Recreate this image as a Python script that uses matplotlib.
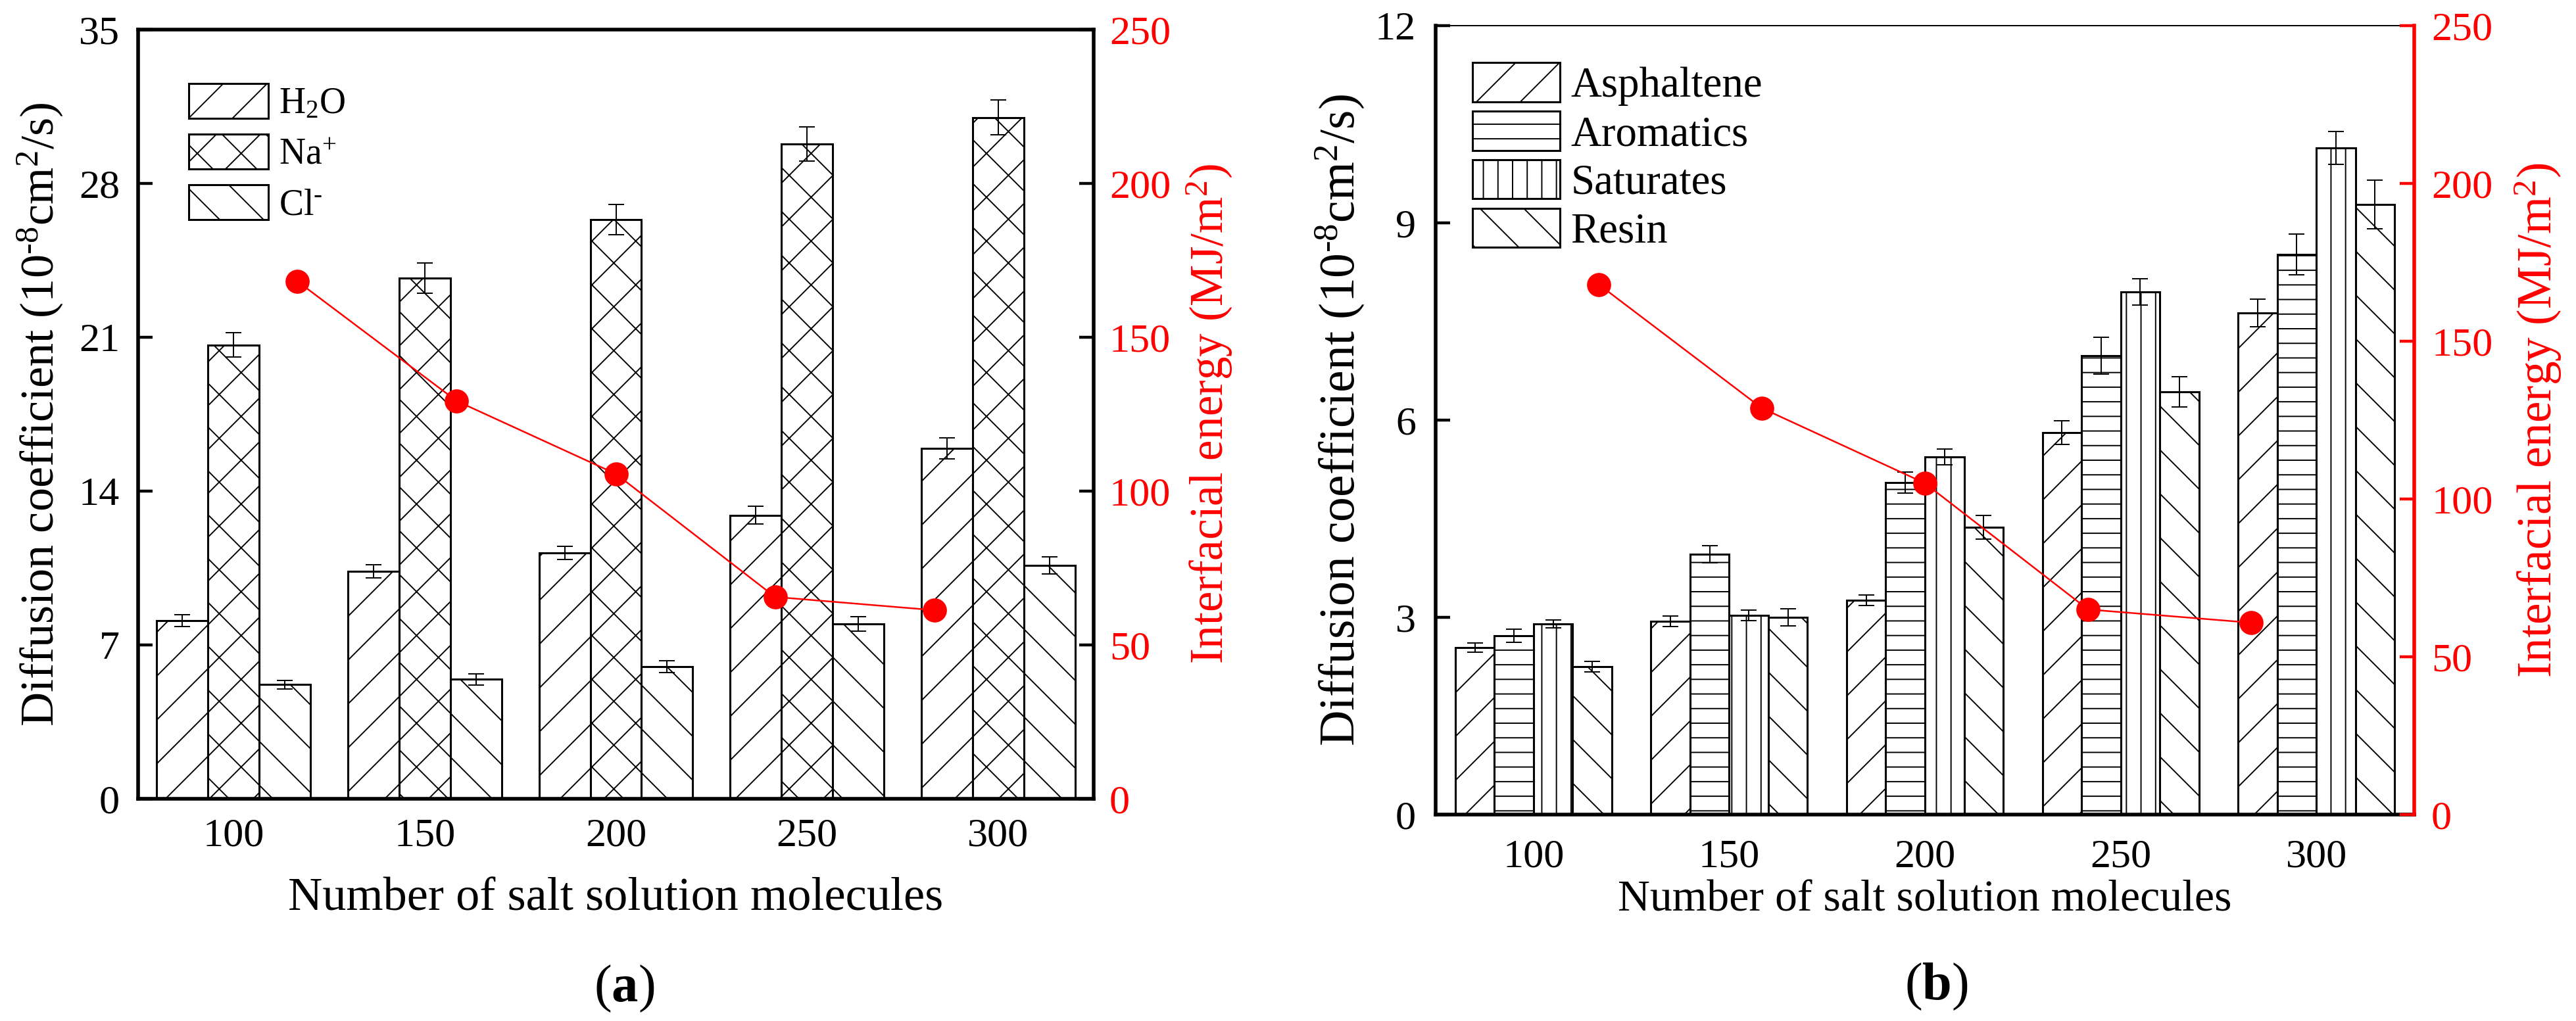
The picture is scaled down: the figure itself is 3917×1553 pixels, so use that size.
import matplotlib
matplotlib.use('Agg')
import matplotlib.pyplot as plt
import numpy as np

# ---- data ----
counts = ['100', '150', '200', '250', '300']

# (a) salt solution species
ion_names = [r'H$_2$O', r'Na$^{+}$', r'Cl$^{\text{-}}$']
h2o = [8.1, 10.35, 11.2, 12.9, 15.95]
h2o_err = [0.27, 0.3, 0.3, 0.4, 0.48]
na = [20.65, 23.7, 26.35, 29.8, 31.0]
na_err = [0.55, 0.69, 0.69, 0.78, 0.8]
cl = [5.2, 5.43, 6.0, 7.95, 10.62]
cl_err = [0.19, 0.24, 0.27, 0.33, 0.4]
energy_a = [168.2, 129.3, 105.6, 65.6, 61.3]

# (b) crude oil fractions
oil_names = ['Asphaltene', 'Aromatics', 'Saturates', 'Resin']
asph = [2.54, 2.94, 3.26, 5.81, 7.63]
asph_err = [0.07, 0.08, 0.08, 0.18, 0.21]
arom = [2.72, 3.96, 5.05, 6.98, 8.52]
arom_err = [0.1, 0.13, 0.16, 0.28, 0.31]
sat = [2.90, 3.03, 5.44, 7.95, 10.14]
sat_err = [0.06, 0.08, 0.12, 0.2, 0.25]
resin = [2.25, 3.0, 4.37, 6.43, 9.28]
resin_err = [0.08, 0.13, 0.18, 0.23, 0.37]
energy_b = [168.0, 128.8, 105.0, 65.0, 60.8]

plt.rcParams.update({
    'font.family': 'Liberation Serif',
    'mathtext.fontset': 'custom',
    'mathtext.rm': 'Liberation Serif',
    'mathtext.it': 'Liberation Serif:italic',
    'mathtext.bf': 'Liberation Serif:bold',
    'hatch.linewidth': 0.35,
    'axes.linewidth': 1.0,
})

DPI = 400
fig = plt.figure(figsize=(3917 / DPI, 1553 / DPI), dpi=DPI)

TICK_FS = 11.2
DIFF_LABEL = r'Diffusion coefficient (10$^{\text{-}8}$cm$^{2}$/s)'
ENERGY_LABEL = 'Interfacial energy (MJ/m$^{2}$)'


def bar_panel(rect, series, errs, names, hatches, width, ymax, ystep):
    ax = fig.add_axes(rect)
    x = np.arange(1, len(counts) + 1)
    n = len(series)
    for i, (vals, err, name, h) in enumerate(zip(series, errs, names, hatches)):
        pos = x + (i - (n - 1) / 2) * width
        ax.bar(pos, vals, width, color='white', edgecolor='black',
               linewidth=0.55, hatch=h, label=name, zorder=2)
        ax.errorbar(pos, vals, yerr=err, fmt='none', ecolor='black',
                    elinewidth=0.35, capsize=2.2, capthick=0.35, zorder=3)
    ax.set_xlim(0.5, len(counts) + 0.5)
    ax.set_ylim(0, ymax)
    ax.set_xticks(x)
    ax.set_xticklabels(counts)
    ax.set_yticks(np.arange(0, ymax + ystep / 2, ystep))
    ax.tick_params(direction='in', length=4, width=0.8, top=False, right=False,
                   labelsize=TICK_FS)
    return ax


def energy_axis(rect, energy):
    ax2 = fig.add_axes(rect)
    ax2.patch.set_visible(False)
    ax2.plot(np.arange(1, len(energy) + 1), energy, '-o', color='red',
             lw=0.45, ms=5.6, zorder=4)
    ax2.set_xlim(0, len(energy) + 1)
    ax2.set_ylim(0, 250)
    ax2.set_yticks(np.arange(0, 251, 50))
    ax2.xaxis.set_visible(False)
    ax2.yaxis.tick_right()
    ax2.yaxis.set_label_position('right')
    for s in ['left', 'top', 'bottom', 'right']:
        ax2.spines[s].set_visible(False)
    return ax2


# ---------- panel (a) ----------
rect_a = [210 / 3917, 1 - 1215 / 1553, 1453 / 3917, 1170 / 1553]
ax_a = bar_panel(rect_a, [h2o, na, cl], [h2o_err, na_err, cl_err], ion_names,
                 ['//', 'xx', '\\\\'], 0.268, 35, 7)
ax_a.tick_params(axis='x', pad=5.2)
ax_a.tick_params(axis='y', pad=5.0)
ax_a.set_ylabel(DIFF_LABEL, fontsize=13.0)
ax_a.yaxis.set_label_coords(-0.0764, 0.5)
ax_a.set_xlabel('Number of salt solution molecules', fontsize=13)
ax_a.xaxis.set_label_coords(0.5, -0.102)
ax_a.legend(loc='upper left', bbox_to_anchor=(0.053, 0.930), frameon=False,
            borderpad=0, borderaxespad=0, handlelength=2.18, handleheight=1.08,
            labelspacing=0.36, handletextpad=0.29, fontsize=10)

e_a = energy_axis(rect_a, energy_a)
e_a.tick_params(direction='in', length=4, width=0.8, colors='black',
                labelcolor='red', labelsize=TICK_FS, pad=4.3)
e_a.set_ylabel(ENERGY_LABEL, color='red', fontsize=12.8)
e_a.yaxis.set_label_coords(1.0957, 0.5)

# ---------- panel (b) ----------
rect_b = [2183 / 3917, 1 - 1239 / 1553, 1488 / 3917, 1200 / 1553]
ax_b = bar_panel(rect_b, [asph, arom, sat, resin],
                 [asph_err, arom_err, sat_err, resin_err], oil_names,
                 ['//', '---', '|||', '\\\\'], 0.2, 12, 3)
ax_b.spines['right'].set_visible(False)
ax_b.spines['top'].set_linewidth(0.35)
ax_b.tick_params(axis='x', pad=6.7)
ax_b.tick_params(axis='y', pad=5.4)
ax_b.set_ylabel(DIFF_LABEL, fontsize=13.6)
ax_b.yaxis.set_label_coords(-0.0712, 0.5)
ax_b.set_xlabel('Number of salt solution molecules', fontsize=12.2)
ax_b.xaxis.set_label_coords(0.5, -0.0825)
ax_b.legend(loc='upper left', bbox_to_anchor=(0.0376, 0.953), frameon=False,
            borderpad=0, borderaxespad=0, handlelength=2.05, handleheight=1.03,
            labelspacing=0.12, handletextpad=0.25, fontsize=11.7)

e_b = energy_axis(rect_b, energy_b)
e_b.spines['right'].set_visible(True)
e_b.spines['right'].set_color('red')
e_b.spines['right'].set_linewidth(1.0)
e_b.tick_params(direction='in', length=4, width=0.8, colors='red',
                labelsize=TICK_FS, pad=4.7)
e_b.set_ylabel(ENERGY_LABEL, color='red', fontsize=13.2)
e_b.yaxis.set_label_coords(1.0995, 0.5)

fig.text(949 / 3917, 1 - 1504 / 1553, r'($\mathbf{a}$)', ha='center',
         va='center', fontsize=14.5)
fig.text(2944 / 3917, 1 - 1501 / 1553, r'($\mathbf{b}$)', ha='center',
         va='center', fontsize=14.5)

fig.savefig('out.png', dpi=DPI)
